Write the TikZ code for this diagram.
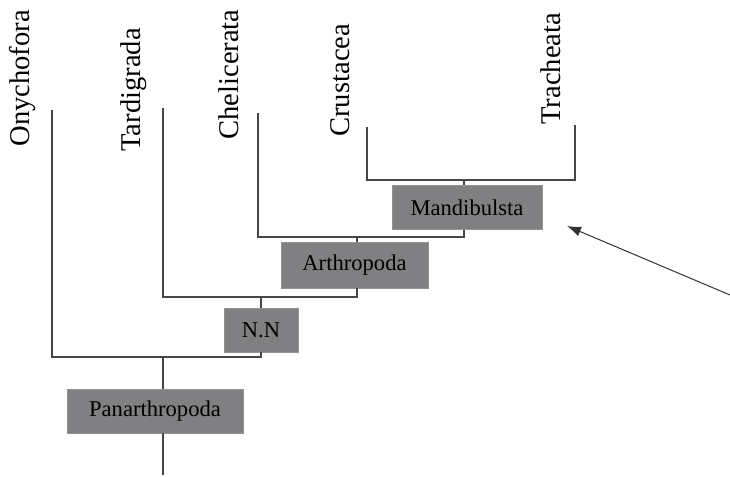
\documentclass[tikz,border=0pt]{standalone}
\usepackage{fontspec}
\setmainfont{Liberation Serif}
\usetikzlibrary{arrows.meta}

\definecolor{boxgray}{RGB}{128,128,130}
\definecolor{linegray}{RGB}{70,70,70}

\begin{document}
\begin{tikzpicture}[x=0.5pt, y=-0.5pt,
  taxon/.style={rotate=90, anchor=west, inner sep=0pt, font=\fontsize{14.3}{16}\selectfont},
  clade/.style={draw=gray!85, fill=boxgray, inner sep=0pt, font=\fontsize{11.3}{13}\selectfont, minimum height=22pt},
  br/.style={draw=linegray, line width=0.75pt},
  arr/.style={-{Latex[length=7pt, width=5pt]}, draw=black!80, line width=0.5pt}
]
\useasboundingbox (0,0) rectangle (730,477);

% Terminal taxa
\node[taxon] (ony) at (23,147) {Onychofora};
\node[taxon] (tar) at (134,152) {Tardigrada};
\node[taxon] (che) at (229,140) {Chelicerata};
\node[taxon] (cru) at (340,137) {Crustacea};
\node[taxon] (tra) at (551,125) {Tracheata};

\coordinate (onytop) at (52,110);
\coordinate (tartop) at (163,108);
\coordinate (chetop) at (258,113);
\coordinate (crutop) at (367,127);
\coordinate (tratop) at (575,125);

% Clade boxes
\node[clade, minimum width=75pt] (mand) at (467,207.5) {Mandibulsta};
\node[clade, minimum width=73.5pt, minimum height=23pt] (arth) at (354.5,265) {Arthropoda};
\node[clade, minimum width=37pt] (nn) at (261,330) {N.N};
\node[clade, minimum width=88pt] (pan) at (155,411) {Panarthropoda};

% Junctions
\coordinate (j4) at (464,180);
\coordinate (j3) at (464,237);
\coordinate (j2) at (357,297);
\coordinate (j1) at (163,357);
\coordinate (rootend) at (163,475);

% Branches
\draw[br] (crutop) |- (j4) -| (tratop);
\draw[br] (j4) -- (j4 |- mand.north);
\draw[br] (chetop) |- (j3) -- (j3 |- mand.south);
\draw[br] (j2 |- j3) -- (j2 |- arth.north);
\draw[br] (tartop) |- (j2) -- (j2 |- arth.south);
\draw[br] (nn.north) -- (nn.north |- j2);
\draw[br] (onytop) |- (j1) -| (nn.south);
\draw[br] (j1) -- (j1 |- pan.north);
\draw[br] (j1 |- pan.south) -- (rootend);

% Pointer
\coordinate (tail) at (730,295);
\coordinate (tip) at (567,226);
\draw[arr] (tail) -- (tip);
\end{tikzpicture}
\end{document}
